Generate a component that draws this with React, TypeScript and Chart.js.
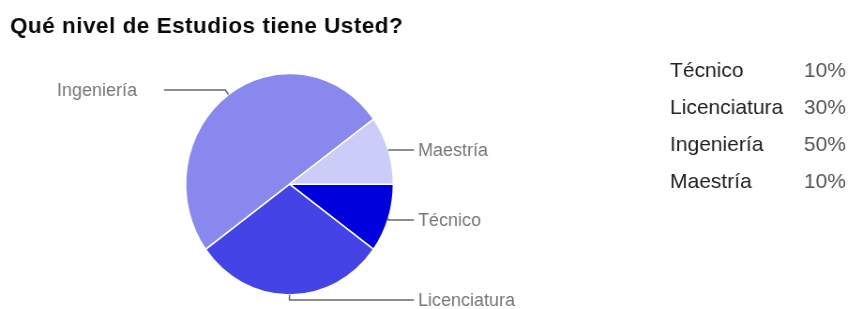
import React, { useEffect, useRef } from "react";
import { Chart, registerables } from "chart.js";

Chart.register(...registerables);

const title = "Qué nivel de Estudios tiene Usted?";
const categories = ["Técnico", "Licenciatura", "Ingeniería", "Maestría"];
const values = [10, 30, 50, 10];
const percentLabels = ["10%", "30%", "50%", "10%"];
const colors = ["#0000dc", "#4444e6", "#8888ef", "#ccccf8"];

// layout (screen pixels)
const W = 850;
const H = 309;
const SX = 0.938; // horizontal squash of the pie
const CW = Math.round(W / SX);
const CX = 289.5;
const CY = 184.2;
const R = 111.5;
// label y positions for callouts
const calloutY = [220, 300, 90, 150];

const labelPlugin = {
  id: "labels",
  afterDraw(chart: any) {
    const ctx = chart.ctx as CanvasRenderingContext2D;
    const meta = chart.getDatasetMeta(0);
    ctx.save();
    ctx.scale(1 / SX, 1);

    // title
    ctx.fillStyle = "#0a0a0a";
    ctx.font = "bold 22.5px 'Liberation Sans', Arial, sans-serif";
    (ctx as any).letterSpacing = "0.5px";
    ctx.textAlign = "left";
    ctx.textBaseline = "alphabetic";
    ctx.fillText(title, 10, 33);
    (ctx as any).letterSpacing = "0px";

    // callouts
    meta.data.forEach((arc: any, i: number) => {
      const mid = (arc.startAngle + arc.endAngle) / 2;
      const px = SX * (arc.x + arc.outerRadius * Math.cos(mid));
      const py = arc.y + arc.outerRadius * Math.sin(mid);
      const right = Math.cos(mid) >= -0.01;
      const ly = calloutY[i];
      const dy = Math.abs(ly - py);
      const elbowX = right ? px : px - Math.min(dy * 0.75, 3);
      const endX = right ? 414 : 164;
      ctx.strokeStyle = "#6a6a6a";
      ctx.lineWidth = 1.5;
      ctx.beginPath();
      ctx.moveTo(px, py);
      ctx.lineTo(elbowX, ly);
      ctx.lineTo(endX, ly);
      ctx.stroke();
      ctx.fillStyle = "#777";
      ctx.font = "18px 'Liberation Sans', Arial, sans-serif";
      ctx.textBaseline = "middle";
      if (right) {
        ctx.textAlign = "left";
        ctx.fillText(categories[i], 418, ly + 1);
      } else {
        ctx.textAlign = "right";
        ctx.fillText(categories[i], 137, ly + 1);
      }
    });

    // legend table
    ctx.font = "21px 'Liberation Sans', Arial, sans-serif";
    ctx.textBaseline = "alphabetic";
    categories.forEach((c, i) => {
      const y = 76.5 + i * 37;
      ctx.fillStyle = "#222";
      ctx.textAlign = "left";
      ctx.fillText(c, 670, y);
      ctx.fillStyle = "#555";
      ctx.textAlign = "right";
      ctx.fillText(percentLabels[i], 846, y);
    });
    ctx.restore();
  },
};

export default function App() {
  const ref = useRef<HTMLCanvasElement>(null);
  useEffect(() => {
    document.body.style.margin = "0";
    const cx = CX / SX;
    const chart = new Chart(ref.current!, {
      type: "pie",
      data: {
        labels: categories,
        datasets: [
          {
            data: values,
            backgroundColor: colors,
            borderColor: "#ffffff",
            borderWidth: 1.5,
          },
        ],
      },
      options: {
        responsive: false,
        animation: false,
        rotation: 90,
        devicePixelRatio: 1,
        layout: {
          padding: {
            left: cx - R,
            right: CW - cx - R,
            top: CY - R,
            bottom: H - CY - R,
          },
        },
        plugins: {
          legend: { display: false },
          tooltip: { enabled: false },
          title: { display: false },
        },
      },
      plugins: [labelPlugin],
    });
    return () => chart.destroy();
  }, []);
  return (
    <div
      style={{
        position: "absolute",
        left: 0,
        top: 0,
        width: W,
        height: H,
        overflow: "hidden",
        background: "#fff",
      }}
    >
      <canvas
        ref={ref}
        width={CW}
        height={H}
        style={{
          display: "block",
          transform: `scaleX(${SX})`,
          transformOrigin: "0 0",
        }}
      />
    </div>
  );
}
